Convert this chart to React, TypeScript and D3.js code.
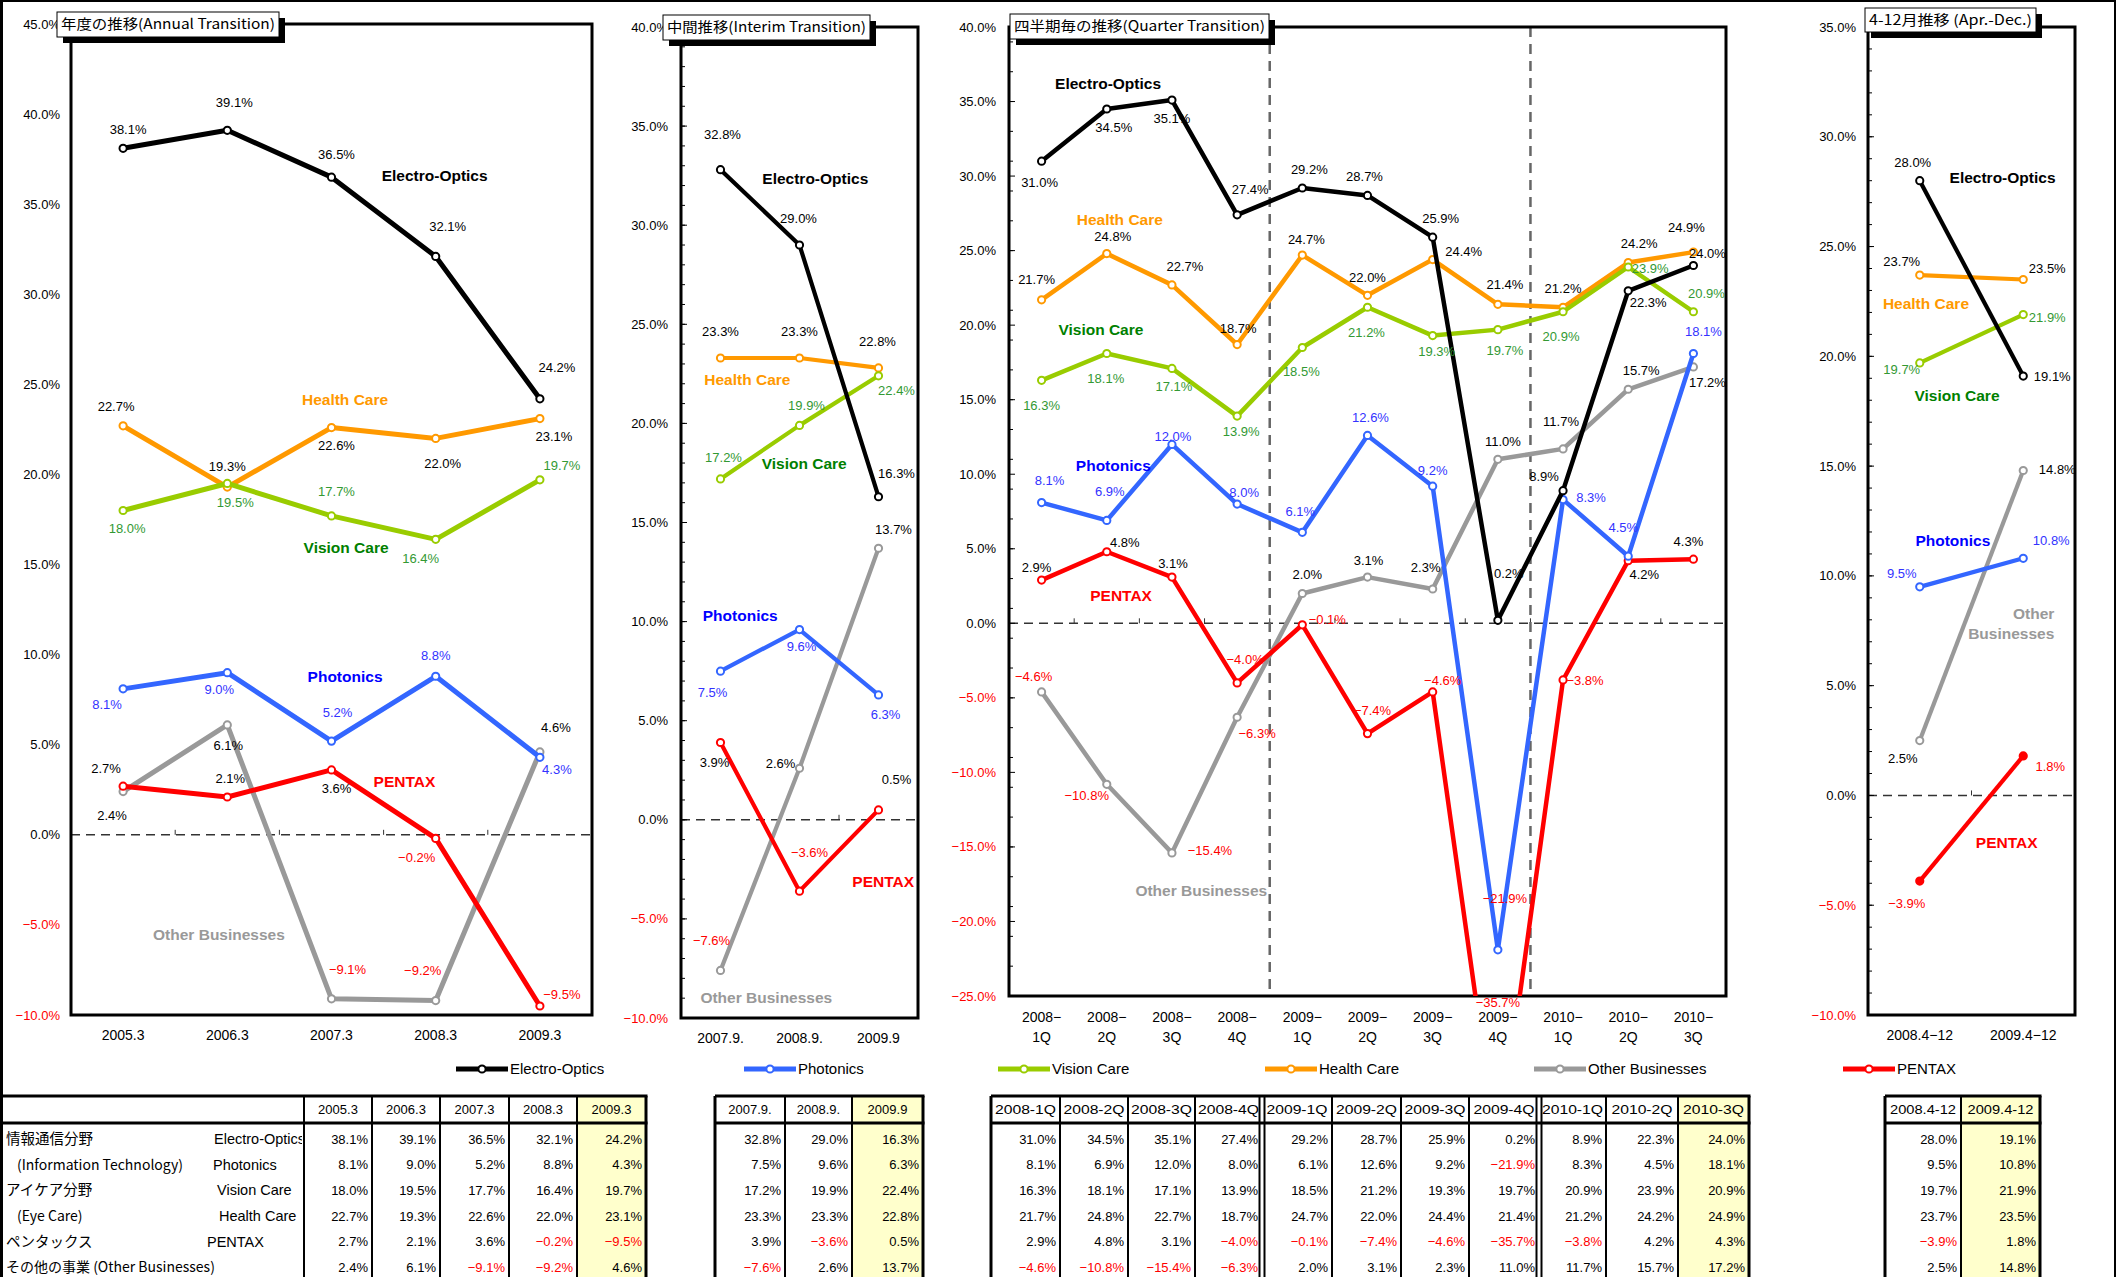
import * as d3 from "d3";

const W = 2121, H = 1277;
const FONT = "'Liberation Sans', Arial, Helvetica, sans-serif";
const JFONT = "'Noto Sans CJK JP', 'Noto Sans', sans-serif";

// ---- categories ----
const annualCats = ["2005.3", "2006.3", "2007.3", "2008.3", "2009.3"];
const interimCats = ["2007.9.", "2008.9.", "2009.9"];
const quarterCats = ["2008-1Q", "2008-2Q", "2008-3Q", "2008-4Q", "2009-1Q", "2009-2Q", "2009-3Q", "2009-4Q", "2010-1Q", "2010-2Q", "2010-3Q"];
const aprDecCats = ["2008.4-12", "2009.4-12"];

// ---- operating margin by segment (%) ----
const annualElectroOptics = [38.1, 39.1, 36.5, 32.1, 24.2];
const annualPhotonics = [8.1, 9.0, 5.2, 8.8, 4.3];
const annualVisionCare = [18.0, 19.5, 17.7, 16.4, 19.7];
const annualHealthCare = [22.7, 19.3, 22.6, 22.0, 23.1];
const annualPentax = [2.7, 2.1, 3.6, -0.2, -9.5];
const annualOther = [2.4, 6.1, -9.1, -9.2, 4.6];

const interimElectroOptics = [32.8, 29.0, 16.3];
const interimPhotonics = [7.5, 9.6, 6.3];
const interimVisionCare = [17.2, 19.9, 22.4];
const interimHealthCare = [23.3, 23.3, 22.8];
const interimPentax = [3.9, -3.6, 0.5];
const interimOther = [-7.6, 2.6, 13.7];

const quarterElectroOptics = [31.0, 34.5, 35.1, 27.4, 29.2, 28.7, 25.9, 0.2, 8.9, 22.3, 24.0];
const quarterPhotonics = [8.1, 6.9, 12.0, 8.0, 6.1, 12.6, 9.2, -21.9, 8.3, 4.5, 18.1];
const quarterVisionCare = [16.3, 18.1, 17.1, 13.9, 18.5, 21.2, 19.3, 19.7, 20.9, 23.9, 20.9];
const quarterHealthCare = [21.7, 24.8, 22.7, 18.7, 24.7, 22.0, 24.4, 21.4, 21.2, 24.2, 24.9];
const quarterPentax = [2.9, 4.8, 3.1, -4.0, -0.1, -7.4, -4.6, -35.7, -3.8, 4.2, 4.3];
const quarterOther = [-4.6, -10.8, -15.4, -6.3, 2.0, 3.1, 2.3, 11.0, 11.7, 15.7, 17.2];

const aprDecElectroOptics = [28.0, 19.1];
const aprDecPhotonics = [9.5, 10.8];
const aprDecVisionCare = [19.7, 21.9];
const aprDecHealthCare = [23.7, 23.5];
const aprDecPentax = [-3.9, 1.8];
const aprDecOther = [2.5, 14.8];

type Key = "eo" | "ph" | "vc" | "hc" | "ob" | "px";
type Pt = [number, number];

const SERIES: Record<Key, { name: string; line: string; text: string; tag: string }> = {
  eo: { name: "Electro-Optics", line: "#000000", text: "#000000", tag: "#000000" },
  ph: { name: "Photonics", line: "#3366FF", text: "#3333FF", tag: "#0000FF" },
  vc: { name: "Vision Care", line: "#99CC00", text: "#339933", tag: "#008000" },
  hc: { name: "Health Care", line: "#FF9900", text: "#000000", tag: "#FF9900" },
  ob: { name: "Other Businesses", line: "#999999", text: "#000000", tag: "#999999" },
  px: { name: "PENTAX", line: "#FF0000", text: "#000000", tag: "#FF0000" },
};
const DRAW_ORDER: Key[] = ["ob", "px", "hc", "vc", "ph", "eo"];
const LEGEND_ORDER: Key[] = ["eo", "ph", "vc", "hc", "ob", "px"];
const TABLE_ORDER: Key[] = ["eo", "ph", "vc", "hc", "px", "ob"];

// label offsets from each point (px), hand-placed as in the original
const annualNudge: Record<Key, Pt[]> = {
  eo: [[5, -19], [7, -28], [5, -23], [12, -30], [17, -31]],
  ph: [[-16, 16], [-8, 17], [6, -29], [0, -21], [17, 12]],
  vc: [[4, 18], [8, 19], [5, -24], [-15, 19], [22, -14]],
  hc: [[-7, -19], [0, -21], [5, 18], [7, 25], [14, 18]],
  px: [[-17, -18], [3, -19], [5, 18], [-19, 19], [22, -12]],
  ob: [[-11, 24], [1, 21], [16, -29], [-13, -30], [16, -24]],
};
const interimNudge: Record<Key, Pt[]> = {
  eo: [[2, -35], [-1, -27], [18, -23]],
  ph: [[-8, 21], [2, 17], [7, 20]],
  vc: [[3, -21], [7, -20], [18, 15]],
  hc: [[0, -27], [0, -27], [-1, -26]],
  px: [[-6, 20], [10, -39], [18, -30]],
  ob: [[-9, -30], [-19, -5], [15, -19]],
};
const quarterNudge: Record<Key, Pt[]> = {
  eo: [[-2, 21], [7, 18], [0, 18], [13, -25], [7, -19], [-3, -19], [8, -19], [11, -47], [-19, -14], [20, 12], [14, -12]],
  ph: [[8, -22], [3, -29], [1, -8], [7, -12], [-2, -21], [3, -18], [0, -16], [7, -51], [28, -2], [-5, -29], [10, -22]],
  vc: [[0, 25], [-1, 25], [2, 18], [4, 15], [-1, 24], [-1, 25], [4, 16], [7, 21], [-2, 25], [22, 1], [13, -18]],
  hc: [[-5, -20], [6, -17], [13, -18], [1, -16], [4, -16], [0, -18], [31, -8], [7, -20], [0, -19], [11, -19], [-7, -25]],
  px: [[-5, -13], [18, -9], [1, -14], [8, -23], [25, -5], [5, -23], [10, -11], [0, 6], [22, 0], [16, 14], [-5, -18]],
  ob: [[-8, -15], [-20, 11], [38, -2], [20, 16], [5, -19], [1, -17], [-7, -22], [5, -18], [-2, -27], [13, -19], [14, 16]],
};
const aprDecNudge: Record<Key, Pt[]> = {
  eo: [[-7, -18], [29, 0]],
  ph: [[-18, -13], [28, -18]],
  vc: [[-18, 7], [24, 3]],
  hc: [[-18, -14], [24, -11]],
  px: [[-13, 22], [27, 11]],
  ob: [[-17, 18], [34, -1]],
};

// series name tags, in (category index, value) units
const annualTags: Record<Key, Pt> = { eo: [2.99, 36.56], hc: [2.13, 24.13], vc: [2.14, 15.92], ph: [2.13, 8.81], px: [2.7, 2.93], ob: [0.92, -5.56] };
const interimTags: Record<Key, Pt> = { eo: [1.2, 32.33], hc: [0.34, 22.19], vc: [1.06, 17.95], ph: [0.25, 10.28], px: [2.06, -3.14], ob: [0.58, -8.99] };
const quarterTags: Record<Key, Pt> = { eo: [1.02, 36.18], hc: [1.2, 27.05], vc: [0.91, 19.67], ph: [1.1, 10.57], px: [1.22, 1.83], ob: [2.45, -17.92] };
const aprDecTags: Record<Key, Pt> = { eo: [0.8, 28.15], hc: [0.06, 22.41], vc: [0.36, 18.19], ph: [0.32, 11.59], px: [0.84, -2.15], ob: [1.3, 7.81] };

const PANELS = [
  {
    id: "annual", title: "年度の推移(Annual Transition)", cats: annualCats,
    values: { eo: annualElectroOptics, ph: annualPhotonics, vc: annualVisionCare, hc: annualHealthCare, px: annualPentax, ob: annualOther } as Record<Key, number[]>,
    nudge: annualNudge, tags: annualTags,
    frame: { x0: 71, x1: 592, y0: 24, y1: 1015 }, domain: [-10, 45], minor: 0, lineW: 5, labelGap: 11,
    box: { x: 57, y: 12, w: 222, h: 25 }, dividers: [] as number[],
  },
  {
    id: "interim", title: "中間推移(Interim Transition)", cats: interimCats,
    values: { eo: interimElectroOptics, ph: interimPhotonics, vc: interimVisionCare, hc: interimHealthCare, px: interimPentax, ob: interimOther } as Record<Key, number[]>,
    nudge: interimNudge, tags: interimTags,
    frame: { x0: 681, x1: 918, y0: 27, y1: 1018 }, domain: [-10, 40], minor: 1, lineW: 4.2, labelGap: 13,
    box: { x: 663, y: 15, w: 207, h: 25 }, dividers: [] as number[],
  },
  {
    id: "quarter", title: "四半期毎の推移(Quarter Transition)", cats: quarterCats,
    values: { eo: quarterElectroOptics, ph: quarterPhotonics, vc: quarterVisionCare, hc: quarterHealthCare, px: quarterPentax, ob: quarterOther } as Record<Key, number[]>,
    nudge: quarterNudge, tags: quarterTags,
    frame: { x0: 1009, x1: 1726, y0: 27, y1: 996 }, domain: [-25, 40], minor: 2, lineW: 4.5, labelGap: 13,
    box: { x: 1010, y: 14, w: 259, h: 25 }, dividers: [4, 8],
  },
  {
    id: "aprdec", title: "4-12月推移 (Apr.-Dec.)", cats: aprDecCats,
    values: { eo: aprDecElectroOptics, ph: aprDecPhotonics, vc: aprDecVisionCare, hc: aprDecHealthCare, px: aprDecPentax, ob: aprDecOther } as Record<Key, number[]>,
    nudge: aprDecNudge, tags: aprDecTags,
    frame: { x0: 1868, x1: 2075, y0: 27, y1: 1015 }, domain: [-10, 35], minor: 1, lineW: 4.2, labelGap: 12,
    box: { x: 1865, y: 8, w: 171, h: 24 }, dividers: [] as number[],
  },
];

const pct = (v: number) => (v < 0 ? "−" : "") + Math.abs(v).toFixed(1) + "%";
const RED = "#FF0000";

function Panel({ p }: { p: (typeof PANELS)[number] }) {
  const f = p.frame;
  const x = d3.scaleBand<string>().domain(p.cats).range([f.x0, f.x1]);
  const bw = x.bandwidth();
  const cx = (i: number) => f.x0 + bw * (i + 0.5);
  const y = d3.scaleLinear().domain(p.domain).range([f.y1, f.y0]);
  const majors = d3.range(p.domain[0], p.domain[1] + 0.01, 5);
  const minors = p.minor ? d3.range(p.domain[0], p.domain[1] + 0.01, p.minor) : [];
  const line = d3.line<number>().x((_, i) => cx(i)).y((d) => y(d));
  const clipId = `clip-${p.id}`;
  const twoLine = p.id === "quarter";
  const isAprDec = p.id === "aprdec";

  return (
    <g>
      <defs>
        <clipPath id={clipId}>
          <rect x={f.x0} y={f.y0} width={f.x1 - f.x0} height={f.y1 - f.y0} />
        </clipPath>
      </defs>

      {/* zero line + category ticks */}
      <line x1={f.x0} x2={f.x1} y1={y(0)} y2={y(0)} stroke="#333" strokeWidth={1.5} strokeDasharray="9,6" />
      {p.cats.slice(1).map((c) => (
        <line key={c} x1={x(c)} x2={x(c)} y1={y(0) - 5} y2={y(0)} stroke="#333" strokeWidth={1} />
      ))}
      {p.dividers.map((k) => (
        <line key={k} x1={f.x0 + bw * k} x2={f.x0 + bw * k} y1={f.y0} y2={f.y1}
          stroke="#666" strokeWidth={2.5} strokeDasharray="10,7" />
      ))}

      {/* frame */}
      <rect x={f.x0} y={f.y0} width={f.x1 - f.x0} height={f.y1 - f.y0} fill="none" stroke="#000" strokeWidth={3} />
      {p.minor > 0 && minors.map((t) => (
        <line key={`mi${t}`} x1={f.x0} x2={f.x0 + 4} y1={y(t)} y2={y(t)} stroke="#000" strokeWidth={1} />
      ))}
      {p.minor > 0 && majors.map((t) => (
        <line key={`ma${t}`} x1={f.x0} x2={f.x0 + 6} y1={y(t)} y2={y(t)} stroke="#000" strokeWidth={1} />
      ))}
      {majors.map((t) => (
        <text key={`yl${t}`} x={f.x0 - p.labelGap} y={y(t)} dy="0.35em" textAnchor="end"
          fontSize={13} fontFamily={FONT} fill={t < 0 ? RED : "#000"}>{pct(t)}</text>
      ))}

      {/* category labels */}
      {p.cats.map((c, i) =>
        twoLine ? (
          <text key={c} x={cx(i)} textAnchor="middle" fontSize={14} fontFamily={FONT} fill="#000">
            <tspan x={cx(i)} y={f.y1 + 26}>{c.split("-")[0]}−</tspan>
            <tspan x={cx(i)} y={f.y1 + 46}>{c.split("-")[1]}</tspan>
          </text>
        ) : (
          <text key={c} x={cx(i)} y={f.y1 + 25} textAnchor="middle" fontSize={14} fontFamily={FONT} fill="#000">
            {c.replace(/-/g, "−")}
          </text>
        )
      )}

      {/* lines */}
      <g clipPath={`url(#${clipId})`}>
        {DRAW_ORDER.map((k) => (
          <g key={k}>
            <path d={line(p.values[k]) || ""} fill="none" stroke={SERIES[k].line} strokeWidth={p.lineW} strokeLinejoin="round" />
            {p.values[k].map((v, i) => (
              <circle key={i} cx={cx(i)} cy={y(v)} r={3.6}
                fill={isAprDec && k === "px" ? SERIES[k].line : "#fff"} stroke={SERIES[k].line} strokeWidth={2} />
            ))}
          </g>
        ))}
      </g>

      {/* data labels */}
      {DRAW_ORDER.map((k) =>
        p.values[k].map((v, i) => {
          const [dx, dy] = p.nudge[k][i];
          const py = Math.min(y(v), f.y1);
          const col = v < 0 || (isAprDec && k === "px") ? RED : SERIES[k].text;
          return (
            <text key={`${k}${i}`} x={cx(i) + dx} y={py + dy} dy="0.35em" textAnchor="middle"
              fontSize={13} fontFamily={FONT} fill={col}>{pct(v)}</text>
          );
        })
      )}

      {/* series name tags */}
      {DRAW_ORDER.map((k) => {
        const [ti, tv] = p.tags[k];
        const multi = isAprDec && k === "ob";
        if (multi) {
          return (
            <text key={`t${k}`} textAnchor="end" fontSize={15.5} fontWeight="bold" fontFamily={FONT} fill={SERIES[k].tag}>
              <tspan x={cx(ti)} y={y(tv) - 10} dy="0.35em">Other</tspan>
              <tspan x={cx(ti)} y={y(tv) + 10} dy="0.35em">Businesses</tspan>
            </text>
          );
        }
        return (
          <text key={`t${k}`} x={cx(ti)} y={y(tv)} dy="0.35em" textAnchor="middle" fontSize={15.5}
            fontWeight="bold" fontFamily={FONT} fill={SERIES[k].tag}>{SERIES[k].name}</text>
        );
      })}

      {/* title box with shadow */}
      <rect x={p.box.x + 6} y={p.box.y + 6} width={p.box.w} height={p.box.h} fill="#000" />
      <rect x={p.box.x} y={p.box.y} width={p.box.w} height={p.box.h} fill="#fff" stroke="#000" strokeWidth={1} />
      <text x={p.box.x + 4} y={p.box.y + p.box.h / 2} dy="0.35em" fontSize={14} fontFamily={JFONT} fill="#000"
        textLength={p.box.w - 8} lengthAdjust="spacingAndGlyphs">{p.title}</text>
    </g>
  );
}

const LEGEND_X = [456, 744, 998, 1265, 1534, 1843];

function Legend() {
  return (
    <g>
      {LEGEND_ORDER.map((k, i) => {
        const lx = LEGEND_X[i];
        return (
          <g key={k}>
            <line x1={lx} x2={lx + 52} y1={1069} y2={1069} stroke={SERIES[k].line} strokeWidth={5} />
            <circle cx={lx + 26} cy={1069} r={3.6} fill="#fff" stroke={SERIES[k].line} strokeWidth={2} />
            <text x={lx + 54} y={1069} dy="0.35em" fontSize={15} fontFamily={FONT} fill="#000">{SERIES[k].name}</text>
          </g>
        );
      })}
    </g>
  );
}

const TABLES = [
  { cats: annualCats, panel: 0, edges: [304, 372, 440, 509, 577, 646], doubles: [] as number[], fit: 0 },
  { cats: interimCats, panel: 1, edges: [715, 785, 852, 923], doubles: [] as number[], fit: 0 },
  { cats: quarterCats, panel: 2, edges: [991, 1060, 1128, 1195, 1262, 1332, 1401, 1469, 1539, 1606, 1678, 1749], doubles: [4, 8], fit: 61 },
  { cats: aprDecCats, panel: 3, edges: [1885, 1961, 2040], doubles: [] as number[], fit: 66 },
];
const rowLabelsJa = ["情報通信分野", "(Information Technology)", "アイケア分野", "(Eye Care)", "ペンタックス", "その他の事業 (Other Businesses)"];
const rowLabelsEn = ["Electro-Optics", "Photonics", "Vision Care", "Health Care", "PENTAX", ""];
const rowLabelJaX = [6, 17, 6, 17, 6, 6];
const rowLabelEnX = [214, 213, 217, 219, 207, 0];

const T_TOP = 1096, T_HEAD = 1123, ROW0 = 1139, ROWH = 25.7;

function Tables() {
  return (
    <g>
      <defs>
        <clipPath id="rowlab"><rect x={0} y={T_HEAD} width={302} height={H - T_HEAD} /></clipPath>
      </defs>
      {TABLES.map((t, ti) => {
        const e = t.edges;
        const left = ti === 0 ? 0 : e[0];
        const last = e.length - 1;
        const vals = PANELS[t.panel].values;
        return (
          <g key={ti}>
            <rect x={e[last - 1]} y={T_TOP} width={e[last] - e[last - 1]} height={H - T_TOP} fill="#FFFFCC" />
            {e.map((ex, k) => {
              if (t.doubles.includes(k)) {
                return (
                  <g key={k}>
                    <line x1={ex - 2.5} x2={ex - 2.5} y1={T_TOP} y2={H} stroke="#000" strokeWidth={2} />
                    <line x1={ex + 2.5} x2={ex + 2.5} y1={T_TOP} y2={H} stroke="#000" strokeWidth={2} />
                  </g>
                );
              }
              const outer = k === last || (k === 0 && ti > 0);
              return <line key={k} x1={ex} x2={ex} y1={T_TOP} y2={H} stroke="#000" strokeWidth={outer ? 3 : 2} />;
            })}
            <line x1={left} x2={e[last] + 1.5} y1={T_TOP} y2={T_TOP} stroke="#000" strokeWidth={3} />
            <line x1={left} x2={e[last] + 1.5} y1={T_HEAD} y2={T_HEAD} stroke="#000" strokeWidth={3} />
            {t.cats.map((c, i) => {
              const mid = (e[i] + e[i + 1]) / 2;
              return (
                <text key={c} x={mid} y={(T_TOP + T_HEAD) / 2} dy="0.35em" textAnchor="middle" fontSize={13}
                  fontFamily={FONT} fill="#000" {...(t.fit ? { textLength: t.fit, lengthAdjust: "spacingAndGlyphs" } : {})}>{c}</text>
              );
            })}
            {TABLE_ORDER.map((k, r) =>
              vals[k].map((v, i) => (
                <text key={`${k}${i}`} x={e[i + 1] - 4} y={ROW0 + r * ROWH} dy="0.35em" textAnchor="end"
                  fontSize={13} fontFamily={FONT} fill={v < 0 ? RED : "#000"}>{pct(v)}</text>
              ))
            )}
          </g>
        );
      })}
      {rowLabelsJa.map((s, r) => (
        <text key={`ja${r}`} x={rowLabelJaX[r]} y={ROW0 + r * ROWH} dy="0.35em" fontSize={r % 2 ? 14 : 14.5}
          fontFamily={JFONT} fill="#000">{s}</text>
      ))}
      <g clipPath="url(#rowlab)">
        {rowLabelsEn.map((s, r) => (
          <text key={`en${r}`} x={rowLabelEnX[r]} y={ROW0 + r * ROWH} dy="0.35em" fontSize={14.5}
            fontFamily={FONT} fill="#000">{s}</text>
        ))}
      </g>
    </g>
  );
}

export default function App() {
  return (
    <div style={{ position: "absolute", left: 0, top: 0, background: "#fff" }}>
      <svg width={W} height={H} style={{ display: "block", background: "#fff" }}>
        {/* outer border */}
        <line x1={1.5} x2={1.5} y1={0} y2={H} stroke="#000" strokeWidth={3} />
        <line x1={0} x2={2116} y1={1} y2={1} stroke="#000" strokeWidth={2} />
        <line x1={2115} x2={2115} y1={0} y2={H} stroke="#000" strokeWidth={2} />
        {PANELS.map((p) => <Panel key={p.id} p={p} />)}
        <Legend />
        <Tables />
      </svg>
    </div>
  );
}
